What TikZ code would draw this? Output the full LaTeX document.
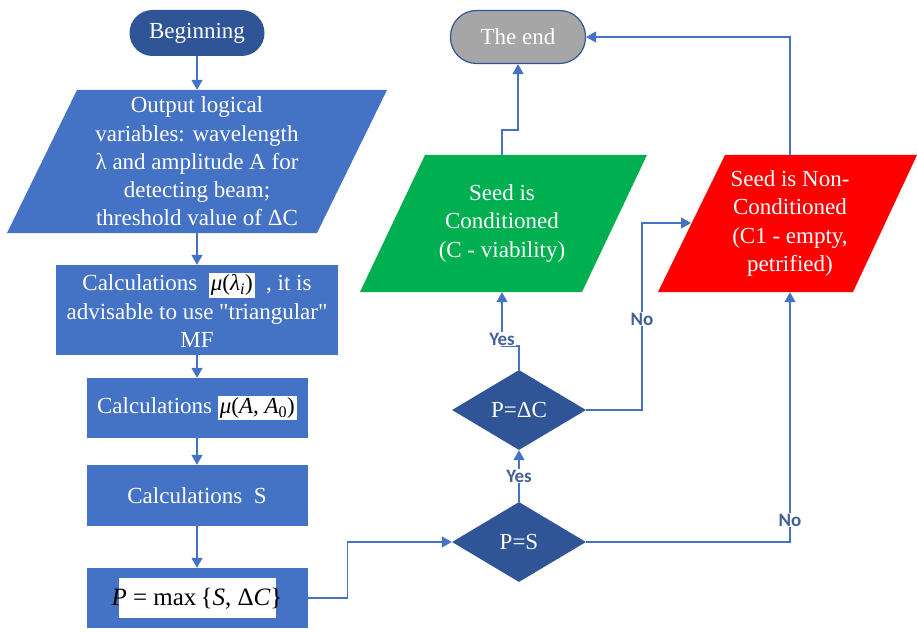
\documentclass[tikz,border=0pt]{standalone}
\usepackage{fontspec}
\setmainfont{Liberation Serif}[Ligatures=TeXOff]
\newfontfamily\serfont{Liberation Serif}[Ligatures=TeXOff]
\newfontfamily\lblfont{Carlito}
\usetikzlibrary{shapes.geometric,arrows.meta}
\definecolor{boxblue}{RGB}{68,114,196}
\definecolor{darkblue}{RGB}{47,85,151}
\definecolor{lineblue}{RGB}{68,114,196}
\definecolor{endgray}{RGB}{166,166,166}
\definecolor{seedgreen}{RGB}{0,176,80}
\definecolor{seedred}{RGB}{255,0,0}
\definecolor{lblcol}{RGB}{68,96,150}
\newcommand{\wbox}[1]{{\setlength{\fboxsep}{2pt}\colorbox{white}{\color{black}#1}}}
\begin{document}
\begin{tikzpicture}[x=1pt,y=-1pt,
  txt/.style={text=white, font=\serfont\fontsize{23}{28.3}\selectfont, align=center, inner sep=0pt},
  procbox/.style={txt, fill=boxblue},
  terminal/.style={txt, rounded corners=23pt},
  decision/.style={diamond, txt, fill=darkblue, minimum width=134pt, minimum height=80pt},
  conn/.style={draw=lineblue, line width=1.5pt, -{Triangle[width=11pt,length=10pt]}},
  lbl/.style={font=\lblfont\bfseries\fontsize{19}{19}\selectfont, text=lblcol, fill=white, inner sep=1pt}]
\useasboundingbox (0,0) rectangle (917,631);

% left column
\node[terminal, fill=darkblue, minimum width=135pt, minimum height=46pt] (beg) at (197,33) {Beginning};
\fill[boxblue] (77,90) -- (387,90) -- (317,233) -- (7,233) -- cycle;
\node[txt, minimum height=143pt] (p1) at (197,161.5) {Output logical\\variables: wavelength\\λ and amplitude A for\\detecting beam;\\threshold value of ΔC};
\node[procbox, minimum width=282pt, minimum height=90pt] (b1) at (197,310)
  {Calculations\ \ \wbox{\itshape μ\upshape(\itshape λ\textsubscript{i}\upshape)}\ \ , it is\\advisable to use "triangular"\\MF};
\node[procbox, minimum width=221pt, minimum height=60pt] (b2) at (197,408)
  {Calculations\ \wbox{\itshape μ\upshape(\itshape A\upshape, \itshape A\textsubscript{\upshape 0}\upshape)}};
\node[procbox, minimum width=221pt, minimum height=61pt] (b3) at (197,495.5) {Calculations\ \ S};
\node[procbox, minimum width=221pt, minimum height=60pt] (pb) at (197,598)
  {{\setlength{\fboxsep}{0pt}\colorbox{white}{\makebox[157pt]{\rule[-13pt]{0pt}{40pt}\color{black}\fontsize{25}{25}\selectfont
   \itshape P \upshape= max\,\{\itshape S\upshape, Δ\itshape C\upshape\}}}}};

% right part
\node[terminal, fill=endgray, draw=darkblue, line width=1.2pt, rounded corners=26pt, minimum width=135pt, minimum height=53pt] (end) at (518,37) {The end};
\fill[seedgreen] (425,155) -- (647,155) -- (582,292) -- (360,292) -- cycle;
\node[txt, minimum height=137pt] (green) at (502,223.5) {Seed is\\Conditioned\\(C - viability)};
\fill[seedred] (725,155) -- (917,155) -- (853,292) -- (658,292) -- cycle;
\node[txt, minimum height=137pt] (red) at (790,223.5) {Seed is Non-\\Conditioned\\(C1 - empty,\\petrified)};
\coordinate (redL) at (691,223);
\node[decision] (dc) at (519,410) {P=ΔC};
\node[decision] (ps) at (519,542) {P=S};

% connectors
\draw[conn] (beg) -- (p1);
\draw[conn] (p1) -- (b1);
\draw[conn] (b1) -- (b2);
\draw[conn] (b2) -- (b3);
\draw[conn] (b3) -- (pb);
\draw[conn] (pb.east) -- ++(40,0) |- (ps.west);
\draw[conn] (ps.north) -- (dc.south);
\node[lbl] (yes1) at (519,476) {Yes};
\draw[conn] (dc.north) -- ++(0,-24) -| (green.south);
\node[lbl] (yes2) at (502,339) {Yes};
\draw[conn] (dc.east) -- ++(56,0) |- (redL);
\node[lbl] (no1) at (642,319) {No};
\draw[conn] (ps.east) -| (red.south);
\node[lbl] (no2) at (790,520) {No};
\draw[conn] (green.north) -- ++(0,-25) -| (end.south);
\draw[conn] (red.north) |- (end.east);
\end{tikzpicture}
\end{document}
